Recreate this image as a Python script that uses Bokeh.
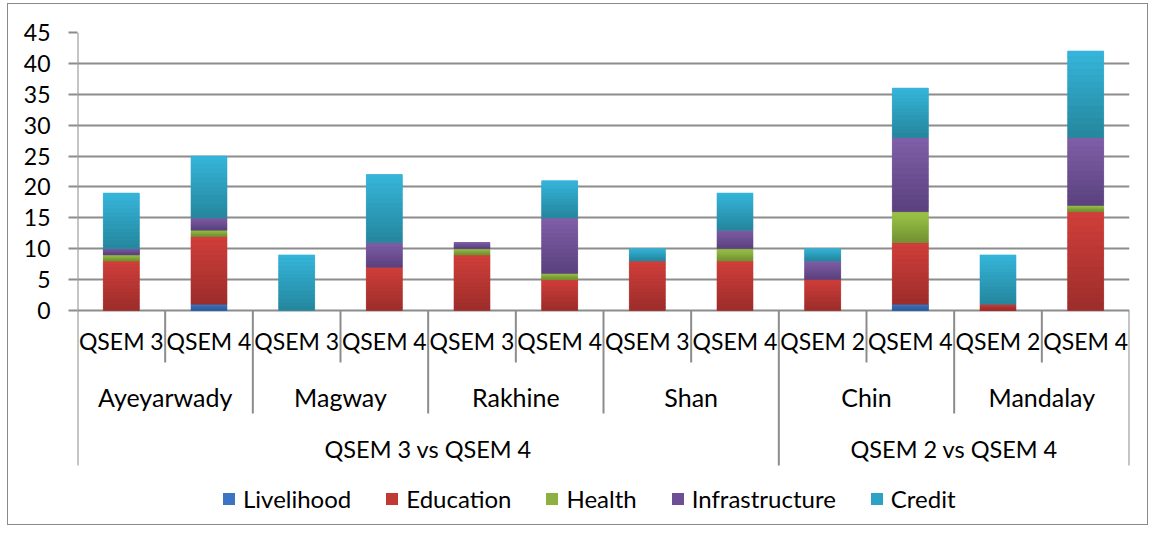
from bokeh.plotting import figure
from bokeh.models import Range1d, FixedTicker, Legend, LegendItem, ColumnDataSource
from bokeh.core.properties import value
from bokeh.embed import file_html
from bokeh.resources import INLINE

# ---------------- data ----------------
groups = ["QSEM 3 vs QSEM 4"] * 8 + ["QSEM 2 vs QSEM 4"] * 4
regions = ["Ayeyarwady", "Ayeyarwady", "Magway", "Magway", "Rakhine", "Rakhine",
           "Shan", "Shan", "Chin", "Chin", "Mandalay", "Mandalay"]
rounds = ["QSEM 3", "QSEM 4", "QSEM 3", "QSEM 4", "QSEM 3", "QSEM 4",
          "QSEM 3", "QSEM 4", "QSEM 2", "QSEM 4", "QSEM 2", "QSEM 4"]
series = ["Livelihood", "Education", "Health", "Infrastructure", "Credit"]
livelihood = [0, 1, 0, 0, 0, 0, 0, 0, 0, 1, 0, 0]
education = [8, 11, 0, 7, 9, 5, 8, 8, 5, 10, 1, 16]
health = [1, 1, 0, 0, 1, 1, 0, 2, 0, 5, 0, 1]
infrastructure = [1, 2, 0, 4, 1, 9, 0, 3, 3, 12, 0, 11]
credit = [9, 10, 9, 11, 0, 6, 2, 6, 2, 8, 8, 14]
y_ticks = [0, 5, 10, 15, 20, 25, 30, 35, 40, 45]

# style: (top colour, bottom colour) of each series' gradient
grad = [("#3d7acb", "#2c5d9c"), ("#d13f3b", "#9c2d2b"), ("#9ec748", "#719133"),
        ("#8060a9", "#5b417e"), ("#36b6db", "#25869d")]
mid_colors = ["#3b74c2", "#be3a33", "#8cb042", "#6e4f95", "#2ea2c4"]
FONT = "Lato"
GRID = "#8c8c8c"

# ---------------- geometry ----------------
W, H = 1141, 522
LEFT, RIGHT, TOP = 69, 20, 28
n = len(rounds)
ymax = y_ticks[-1]
unit = 278.0 / ymax                 # px per unit
ymin = ymax - (H - TOP) / unit

def px_below_zero(px):
    return -px / unit

lvl_bottom = [px_below_zero(52), px_below_zero(103), px_below_zero(155)]
lvl_text = [px_below_zero(30), px_below_zero(86), px_below_zero(138)]

p = figure(width=W, height=H, output_backend="svg", toolbar_location=None,
           x_range=Range1d(0, n), y_range=Range1d(ymin, ymax),
           x_axis_location=None, min_border_left=LEFT, min_border_right=RIGHT,
           min_border_top=TOP, min_border_bottom=0)
p.styles = {"border": "1px solid #8a8a8a", "margin-left": "7px", "margin-top": "3px"}
p.outline_line_color = None
p.background_fill_color = "white"
p.border_fill_color = "white"

# y axis
p.yaxis.ticker = FixedTicker(ticks=y_ticks)
p.yaxis.axis_line_color = None
p.yaxis.major_tick_out = 9
p.yaxis.major_tick_in = 0
p.yaxis.major_tick_line_color = GRID
p.yaxis.major_tick_line_width = 2
p.yaxis.minor_tick_line_color = None
p.yaxis.major_label_standoff = 18
p.yaxis.major_label_text_font = FONT
p.yaxis.major_label_text_font_size = "23px"
p.yaxis.major_label_text_color = "black"
p.ygrid.ticker = FixedTicker(ticks=y_ticks)
p.ygrid.grid_line_color = GRID
p.ygrid.grid_line_width = 2
p.xgrid.grid_line_color = None

p.segment(x0=[0], y0=[y_ticks[0]], x1=[0], y1=[y_ticks[-1]], line_color=GRID, line_width=2)

# bars (flat stack, used by the legend)
xs = [i + 0.5 for i in range(n)]
BW = 0.41
src = ColumnDataSource(dict(x=xs, Livelihood=livelihood, Education=education,
                            Health=health, Infrastructure=infrastructure, Credit=credit))
rs = p.vbar_stack(series, x="x", width=BW, source=src, color=mid_colors, line_color=None)

# gradient overlay: each stacked segment split into horizontal bands
def hex2rgb(h):
    return tuple(int(h[i:i + 2], 16) for i in (1, 3, 5))

def mix(c1, c2, t):
    a, b = hex2rgb(c1), hex2rgb(c2)
    return "#%02x%02x%02x" % tuple(round(a[i] + (b[i] - a[i]) * t) for i in range(3))

K = 14
gx, gt, gb, gc = [], [], [], []
stack_vals = [livelihood, education, health, infrastructure, credit]
base = [0.0] * n
for s, vals in enumerate(stack_vals):
    for i in range(n):
        v = vals[i]
        if v > 0:
            t0 = base[i] + v
            for k in range(K):
                top_k = t0 - v * k / K
                bot_k = t0 - v * (k + 1) / K
                gx.append(xs[i]); gt.append(top_k); gb.append(bot_k)
                gc.append(mix(grad[s][0], grad[s][1], (k + 0.5) / K))
        base[i] += v
gsrc = ColumnDataSource(dict(x=gx, top=gt, bottom=gb, c=gc))
p.vbar(x="x", top="top", bottom="bottom", width=BW, source=gsrc,
       fill_color="c", line_color="c", line_width=0.6)

# category axis separators
depths = []
for k in range(n + 1):
    if k == 0 or k == n or groups[k] != groups[k - 1]:
        depths.append(lvl_bottom[2])
    elif regions[k] != regions[k - 1]:
        depths.append(lvl_bottom[1])
    else:
        depths.append(lvl_bottom[0])
p.segment(x0=list(range(n + 1)), y0=[0] * (n + 1), x1=list(range(n + 1)), y1=depths,
          line_color=GRID, line_width=2)

def spans(labels):
    out = []
    start = 0
    for k in range(1, n + 1):
        if k == n or labels[k] != labels[k - 1] or groups[k] != groups[k - 1]:
            out.append((labels[start], (start + k) / 2))
            start = k
    return out

p.text(x=xs, y=[lvl_text[0]] * n, text=rounds, text_align="center", text_baseline="middle",
       text_font=value(FONT), text_font_size="23px", text_color="black")
reg = spans(regions)
p.text(x=[c for _, c in reg], y=[lvl_text[1]] * len(reg), text=[t for t, _ in reg],
       text_align="center", text_baseline="middle", text_font=value(FONT),
       text_font_size="25px", text_color="black")
grp = spans(groups)
p.text(x=[c for _, c in grp], y=[lvl_text[2]] * len(grp), text=[t for t, _ in grp],
       text_align="center", text_baseline="middle", text_font=value(FONT),
       text_font_size="23.5px", text_color="black")

legend = Legend(items=[LegendItem(label=s, renderers=[r]) for s, r in zip(series, rs)],
                orientation="horizontal", location=(144, 13),
                border_line_color=None, background_fill_alpha=0,
                glyph_width=15, glyph_height=15, label_standoff=7, spacing=33,
                padding=0, margin=0, label_text_font=FONT, label_text_font_size="24px",
                label_text_color="black")
p.add_layout(legend)

open("out.html", "w").write(file_html(p, INLINE))
